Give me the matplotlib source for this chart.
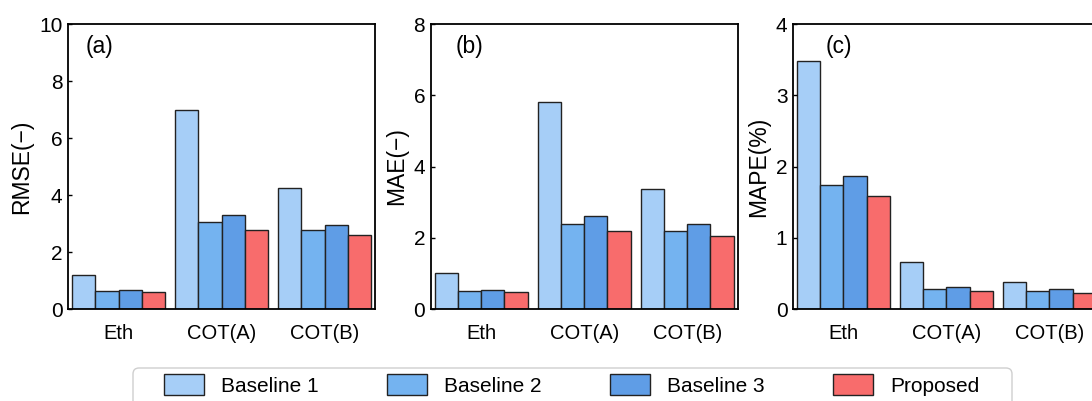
import numpy as np
import matplotlib.pyplot as plt
from matplotlib.patches import FancyBboxPatch

plt.rcParams['font.family'] = ['Liberation Sans', 'DejaVu Sans']

categories = ['Eth', 'COT(A)', 'COT(B)']
methods = ['Baseline 1', 'Baseline 2', 'Baseline 3', 'Proposed']
colors = ['#A6CEF7', '#74B3F0', '#5F9DE6', '#F86C6C']

rmse = {
    'Baseline 1': [1.20, 7.00, 4.26],
    'Baseline 2': [0.63, 3.06, 2.78],
    'Baseline 3': [0.68, 3.30, 2.96],
    'Proposed':   [0.59, 2.78, 2.60],
}
mae = {
    'Baseline 1': [1.01, 5.80, 3.36],
    'Baseline 2': [0.50, 2.38, 2.20],
    'Baseline 3': [0.53, 2.60, 2.38],
    'Proposed':   [0.47, 2.18, 2.06],
}
mape = {
    'Baseline 1': [3.48, 0.66, 0.38],
    'Baseline 2': [1.74, 0.28, 0.25],
    'Baseline 3': [1.86, 0.31, 0.28],
    'Proposed':   [1.58, 0.25, 0.23],
}

panels = [
    (rmse, 'RMSE(\u2212)', 10, [0, 2, 4, 6, 8, 10], '(a)', 0.058),
    (mae, 'MAE(\u2212)', 8, [0, 2, 4, 6, 8], '(b)', 0.082),
    (mape, 'MAPE(%)', 4, [0, 1, 2, 3, 4], '(c)', 0.106),
]
lefts = [0.0623, 0.3944, 0.7262]

fig = plt.figure(figsize=(10.92, 4.01), dpi=100)
x = np.arange(len(categories))
width = 0.225

handles = []
for (data, ylabel, ymax, yticks, tag, tagx), left in zip(panels, lefts):
    ax = fig.add_axes([left, 0.2294, 0.2811, 0.7107])
    for i, (m, c) in enumerate(zip(methods, colors)):
        b = ax.bar(x + (i - 1.5) * width, data[m], width, color=c,
                   edgecolor='#222222', linewidth=1.0, label=m)
        if left == lefts[0]:
            handles.append(b)
    ax.set_xlim(-0.49, 2.49)
    ax.set_ylim(0, ymax)
    ax.set_yticks(yticks)
    ax.set_xticks(x)
    ax.set_xticklabels(categories, fontsize=14.5)
    ax.tick_params(axis='y', direction='in', length=3, width=1, labelsize=15, pad=4)
    ax.tick_params(axis='x', length=0, pad=11)
    ax.set_ylabel(ylabel, fontsize=16.5, labelpad=4)
    for s in ax.spines.values():
        s.set_linewidth(1.3)
    ax.text(tagx, 0.92, tag, transform=ax.transAxes, fontsize=16.5,
            ha='left', va='center')

# legend frame, runs off the bottom edge
frame = FancyBboxPatch((1.33, -0.3), 8.79, 0.63,
                       boxstyle='round,pad=0,rounding_size=0.06',
                       transform=fig.dpi_scale_trans, facecolor='white',
                       edgecolor='#cfcfcf', linewidth=1.0)
fig.patches.append(frame)

fig.legend(handles, methods, loc='center', bbox_to_anchor=(0.5234, 0.040),
           ncol=4, fontsize=15, handlelength=1.92, handleheight=1.2,
           handletextpad=0.82, columnspacing=3.28, frameon=False,
           borderpad=0, borderaxespad=0)

fig.savefig('out.png', dpi=100)
